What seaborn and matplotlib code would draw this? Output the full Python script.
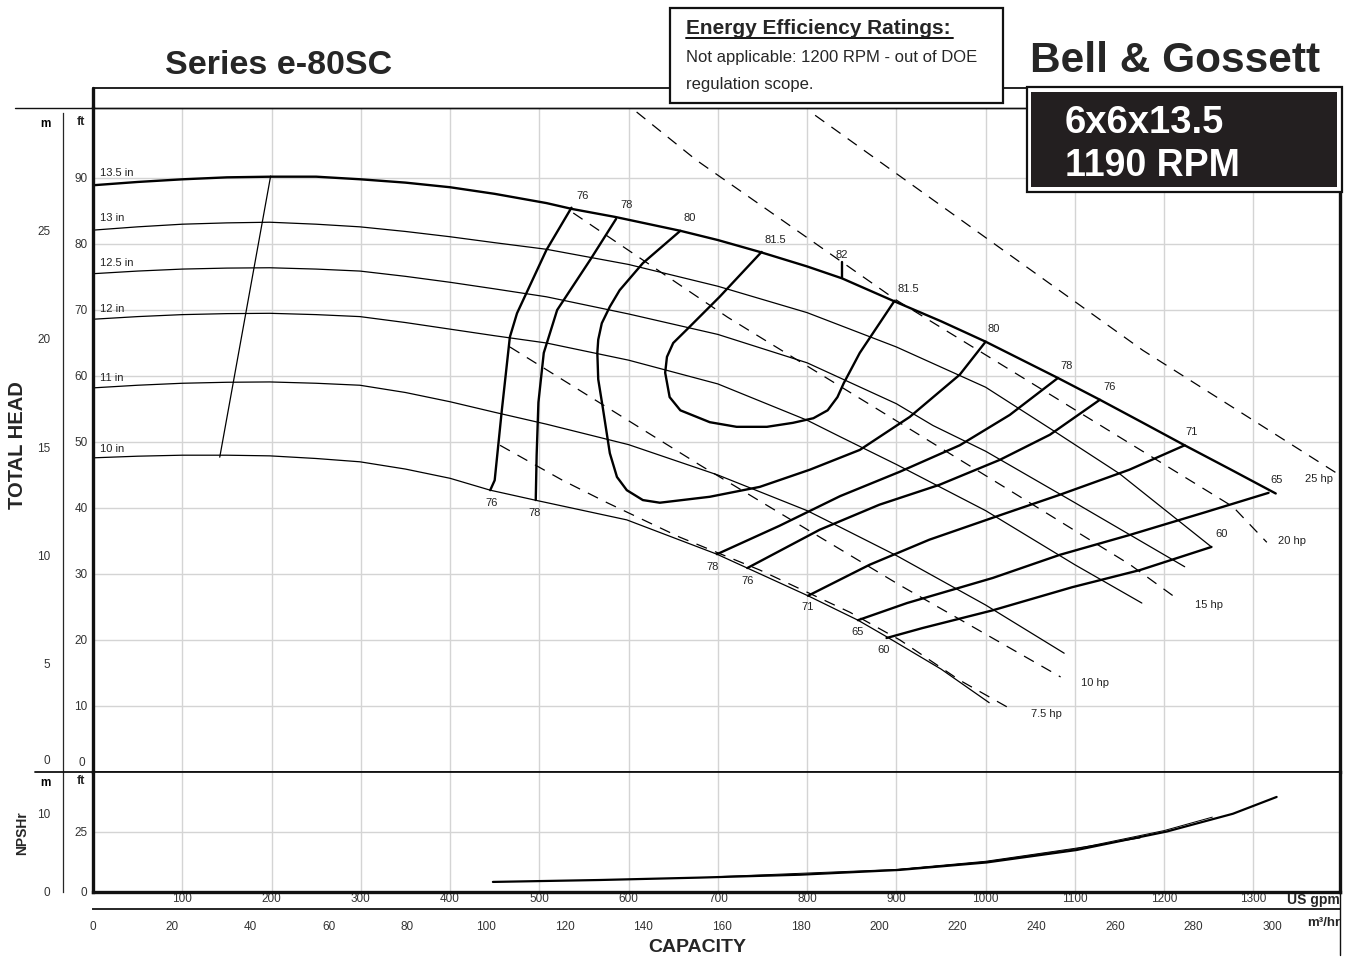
import numpy as np
import pandas as pd
import matplotlib
matplotlib.use('Agg')
import matplotlib.pyplot as plt
import seaborn as sns
from matplotlib.lines import Line2D
from matplotlib.patches import Rectangle

sns.set_style('white')
plt.rcParams['font.family'] = ['Liberation Sans', 'DejaVu Sans']

W_PX, H_PX = 1355, 958
FT_PER_M = 3.281
GPM_PER_M3H = 4.403

# impeller curves (US gpm, ft)
d135_gpm = [0, 50, 100, 150, 200, 250, 300, 350, 400, 450, 508, 537, 585, 658, 700, 747, 800, 839,
            898, 950, 1000, 1081, 1128, 1175, 1223, 1275, 1325]
d135_ft = [88.9, 89.4, 89.8, 90.1, 90.2, 90.2, 89.8, 89.3, 88.6, 87.6, 86.2, 85.3, 84.1, 82.0, 80.6,
           78.8, 76.6, 74.8, 71.3, 68.3, 65.2, 59.7, 56.4, 53.0, 49.5, 45.8, 42.2]
d130_gpm = [0, 50, 100, 150, 198, 250, 299, 350, 400, 450, 508, 600, 700, 800, 900, 1000, 1075, 1150, 1253]
d130_ft = [82.1, 82.6, 83.0, 83.2, 83.3, 83.0, 82.6, 81.9, 81.1, 80.2, 79.2, 76.9, 73.6, 69.6, 64.4,
           58.3, 51.8, 45.2, 34.1]
d125_gpm = [0, 50, 100, 150, 198, 250, 299, 350, 400, 450, 508, 600, 700, 800, 900, 941, 1000, 1100, 1223]
d125_ft = [75.5, 75.9, 76.2, 76.35, 76.4, 76.2, 75.9, 75.1, 74.2, 73.2, 72.0, 69.4, 66.3, 62.0, 55.8,
           52.5, 48.6, 40.8, 31.1]
d120_gpm = [0, 50, 100, 150, 198, 250, 299, 350, 400, 450, 508, 600, 700, 800, 837, 900, 1000, 1100, 1175]
d120_ft = [68.6, 69.0, 69.3, 69.45, 69.5, 69.3, 69.0, 68.1, 67.1, 66.1, 65.0, 62.4, 58.8, 53.3, 50.8,
           46.6, 39.6, 31.4, 25.6]
d110_gpm = [0, 50, 100, 150, 198, 250, 299, 350, 400, 450, 508, 600, 700, 800, 837, 900, 1000, 1088]
d110_ft = [58.2, 58.6, 58.9, 59.05, 59.1, 58.9, 58.6, 57.5, 56.1, 54.5, 52.7, 49.6, 45.0, 39.6, 37.1,
           32.8, 25.3, 18.0]
d100_gpm = [0, 50, 100, 150, 198, 250, 299, 350, 400, 445, 495, 598, 699, 733, 801, 857, 889, 950, 1004]
d100_ft = [47.6, 47.85, 48.0, 48.0, 47.9, 47.5, 47.0, 45.9, 44.5, 42.7, 41.2, 38.2, 33.0, 30.9, 26.7,
           23.0, 20.5, 15.6, 10.5]
dia_labels = ['13.5 in', '13 in', '12.5 in', '12 in', '11 in', '10 in']
dia_label_ft = [90.8, 83.9, 77.1, 70.2, 59.7, 48.9]

minflow_gpm = [199, 142]
minflow_ft = [90.3, 47.7]

# efficiency contours (%)
e76l_gpm = [536, 508, 475, 467, 458, 450, 445]
e76l_ft = [85.5, 79.1, 69.5, 65.9, 54.8, 44.2, 42.7]
e78l_gpm = [586, 557, 520, 505, 499, 497, 496]
e78l_ft = [83.8, 77.6, 70.0, 63.5, 56.0, 48.0, 41.2]
e80_gpm = [658, 616, 590, 579, 570, 566, 565, 566, 571, 579, 587, 598, 616, 635, 691, 747, 803, 859,
           915, 971, 1000]
e80_ft = [82.0, 77.1, 73.0, 70.5, 68.0, 65.5, 63.5, 59.5, 55.3, 48.3, 44.7, 42.7, 41.2, 40.8, 41.7,
          43.2, 45.8, 48.8, 53.8, 60.2, 65.2]
e815_gpm = [749, 702, 665, 650, 643, 641, 646, 658, 691, 721, 755, 784, 807, 823, 834, 841, 859, 898]
e815_ft = [78.8, 72.0, 67.0, 65.0, 62.9, 60.5, 56.8, 54.8, 53.0, 52.3, 52.3, 52.9, 53.6, 54.8, 56.8,
           58.9, 63.5, 71.4]
e78r_gpm = [1081, 1027, 971, 904, 837, 769, 699]
e78r_ft = [59.7, 54.1, 49.5, 45.5, 41.8, 37.3, 33.0]
e76r_gpm = [1128, 1072, 1016, 948, 881, 814, 733]
e76r_ft = [56.4, 51.1, 47.3, 43.5, 40.5, 36.7, 30.9]
e71_gpm = [1223, 1161, 1083, 1016, 937, 870, 801]
e71_ft = [49.5, 45.8, 42.0, 38.9, 35.2, 31.4, 26.7]
e65_gpm = [1317, 1247, 1161, 1083, 1008, 912, 857]
e65_ft = [42.3, 39.4, 35.9, 32.9, 29.4, 25.6, 23.0]
e60_gpm = [1253, 1173, 1097, 1008, 929, 889]
e60_ft = [34.1, 30.6, 28.0, 24.5, 21.8, 20.3]
peak_gpm = [839, 839]
peak_ft = [74.8, 77.2]

eff_text = ['76', '78', '80', '81.5', '82', '81.5', '80', '78', '76', '71', '65', '60',
            '76', '78', '78', '76', '71', '65', '60']
eff_text_gpm = [548, 598, 669, 764, 839, 913, 1009, 1091, 1139, 1231, 1326, 1264,
                446, 495, 694, 733, 800, 856, 886]
eff_text_ft = [87.3, 85.9, 83.9, 80.6, 78.4, 73.2, 67.1, 61.5, 58.3, 51.5, 44.2, 36.1,
               40.8, 39.2, 31.1, 28.9, 25.0, 21.2, 18.5]

# power lines (hp)
hp25_gpm = [809, 1176, 1393]
hp25_ft = [99.5, 63.9, 45.3]
hp20_gpm = [609, 676, 900, 1277, 1315]
hp20_ft = [100.0, 92.7, 71.5, 40.2, 34.8]
hp15_gpm = [538, 711, 1017, 1162, 1213]
hp15_ft = [84.7, 68.9, 43.5, 31.4, 26.4]
hp10_gpm = [467, 680, 904, 1084]
hp10_ft = [64.4, 46.5, 28.3, 14.4]
hp75_gpm = [456, 526, 576, 657, 747, 848, 904, 971, 1030]
hp75_ft = [49.5, 44.2, 40.8, 35.6, 30.6, 24.2, 20.0, 13.9, 9.4]
hp_text = ['25 hp', '20 hp', '15 hp', '10 hp', '7.5 hp']
hp_text_gpm = [1374, 1343, 1250, 1122, 1068]
hp_text_ft = [44.4, 35.0, 25.3, 13.5, 8.8]

# NPSHr (US gpm, ft)
npsh_gpm = [448, 568, 680, 792, 904, 1001, 1102, 1203, 1277, 1326]
npsh_ft = [4.2, 5.0, 6.0, 7.2, 9.2, 12.3, 17.5, 25.2, 32.6, 39.6]
npsh2_gpm = [700, 900, 1000, 1100, 1173]
npsh2_ft = [6.4, 9.4, 12.8, 18.2, 22.5]
npsh3_gpm = [900, 1000, 1100, 1200, 1254]
npsh3_ft = [9.3, 12.6, 17.9, 25.6, 31.2]


def long_df(pairs):
    frames = [pd.DataFrame({'gpm': q, 'ft': h, 'curve': i}) for i, (q, h) in enumerate(pairs)]
    return pd.concat(frames, ignore_index=True)


def fxy(x, y):
    return x / W_PX, 1 - y / H_PX


thin_df = long_df([(d130_gpm, d130_ft), (d125_gpm, d125_ft), (d120_gpm, d120_ft),
                   (d110_gpm, d110_ft), (d100_gpm, d100_ft), (minflow_gpm, minflow_ft)])
thick_df = long_df([(d135_gpm, d135_ft), (e76l_gpm, e76l_ft), (e78l_gpm, e78l_ft),
                    (e80_gpm, e80_ft), (e815_gpm, e815_ft), (e78r_gpm, e78r_ft),
                    (e76r_gpm, e76r_ft), (e71_gpm, e71_ft), (e65_gpm, e65_ft),
                    (e60_gpm, e60_ft), (peak_gpm, peak_ft)])
hp_df = long_df([(hp25_gpm, hp25_ft), (hp20_gpm, hp20_ft), (hp15_gpm, hp15_ft),
                 (hp10_gpm, hp10_ft), (hp75_gpm, hp75_ft)])
npsh_df = long_df([(npsh_gpm, npsh_ft)])
npsh_thin_df = long_df([(npsh2_gpm, npsh2_ft), (npsh3_gpm, npsh3_ft)])

fig = plt.figure(figsize=(W_PX / 100, H_PX / 100), dpi=100)
X0, X1 = 93, 1340
XMAX = 1397
ax = fig.add_axes([X0 / W_PX, 1 - 772 / H_PX, (X1 - X0) / W_PX, (772 - 108) / H_PX])
axn = fig.add_axes([X0 / W_PX, 1 - 892 / H_PX, (X1 - X0) / W_PX, 120 / H_PX])

common = dict(x='gpm', y='ft', units='curve', estimator=None, sort=False, color='black', legend=False)
sns.lineplot(data=thin_df, ax=ax, lw=0.9, **common)
sns.lineplot(data=thick_df, ax=ax, lw=1.7, **common)
sns.lineplot(data=hp_df, ax=ax, lw=0.9, linestyle=(0, (9, 7)), **common)
sns.lineplot(data=npsh_thin_df, ax=axn, lw=0.7, **common)
sns.lineplot(data=npsh_df, ax=axn, lw=1.6, **common)

small = dict(fontsize=8, color='#222222')
for lab, h in zip(dia_labels, dia_label_ft):
    ax.text(8, h, lab, ha='left', va='center', **small)
for lab, q, h in zip(eff_text, eff_text_gpm, eff_text_ft):
    ax.text(q, h, lab, ha='center', va='center', **small)
for lab, q, h in zip(hp_text, hp_text_gpm, hp_text_ft):
    ax.text(q, h, lab, ha='center', va='center', **small)

# main head axes
ax.set_xlim(0, XMAX)
ax.set_ylim(0, (772 - 108) / 6.6)
ax.set_xticks(np.arange(100, 1400, 100))
ax.set_xticklabels([])
ft_ticks = list(range(10, 100, 10))
ax.set_yticks(ft_ticks)
ax.set_yticklabels([str(v) for v in ft_ticks], fontsize=8.5, color='#333333')
ax.tick_params(axis='both', length=0, pad=4)
ax.grid(True, color='#d4d4d4', lw=1.0)
ax.set_axisbelow(True)
ax.set_xlabel('')
ax.set_ylabel('')
for s, lw in [('left', 2.4), ('right', 2.4), ('bottom', 1.3), ('top', 1.0)]:
    ax.spines[s].set_linewidth(lw)
    ax.spines[s].set_color('#111111')
yt = ax.get_yaxis_transform()
ax.text(-0.006, (772 - 122) / 6.6, 'ft', transform=yt, ha='right', va='center', fontsize=9, fontweight='bold')
ax.text(-0.006, 0.4, '0', transform=yt, ha='right', va='bottom', fontsize=8.5, color='#333333')

# head, metres
axm = fig.add_axes([63 / W_PX, 1 - 772 / H_PX, 1e-4, (772 - 113) / H_PX])
axm.set_ylim(0, (772 - 113) / 6.6 / FT_PER_M)
axm.set_xticks([])
axm.set_yticks([5, 10, 15, 20, 25, (772 - 122) / 6.6 / FT_PER_M])
labs = axm.set_yticklabels(['5', '10', '15', '20', '25', 'm'], fontsize=8.5, color='#333333')
labs[-1].set_fontweight('bold')
labs[-1].set_color('black')
axm.tick_params(axis='y', direction='out', length=6, pad=3, width=0.8)
for s in ['top', 'right', 'bottom']:
    axm.spines[s].set_visible(False)
axm.spines['left'].set_linewidth(0.9)
axm.patch.set_visible(False)
axm.annotate('0', xy=(0, 0.25), xycoords=('axes fraction', 'data'), xytext=(-9, 0),
             textcoords='offset points', ha='right', va='bottom', fontsize=8.5, color='#333333')

# NPSHr axes
axn.set_xlim(0, XMAX)
axn.set_ylim(0, 50)
gpm_ticks = list(range(100, 1400, 100))
axn.set_xticks(gpm_ticks)
axn.set_xticklabels([str(v) for v in gpm_ticks], fontsize=8.5, color='#333333')
axn.set_yticks([0, 25])
axn.set_yticklabels(['0', '25'], fontsize=8.5, color='#333333')
axn.tick_params(axis='x', length=0, pad=1)
axn.tick_params(axis='y', length=0, pad=4)
axn.grid(True, color='#d4d4d4', lw=1.0)
axn.set_axisbelow(True)
axn.set_xlabel('')
axn.set_ylabel('')
for s, lw in [('left', 2.4), ('right', 2.4), ('bottom', 2.4), ('top', 1.3)]:
    axn.spines[s].set_linewidth(lw)
    axn.spines[s].set_color('#111111')
axn.text(-0.006, (892 - 781) / 2.4, 'ft', transform=axn.get_yaxis_transform(), ha='right', va='center', fontsize=9, fontweight='bold')

axnm = fig.add_axes([63 / W_PX, 1 - 892 / H_PX, 1e-4, 120 / H_PX])
axnm.set_ylim(0, 50 / FT_PER_M)
axnm.set_xticks([])
axnm.set_yticks([0, 10, (892 - 781) / 2.4 / FT_PER_M])
labs = axnm.set_yticklabels(['0', '10', 'm'], fontsize=8.5, color='#333333')
labs[-1].set_fontweight('bold')
labs[-1].set_color('black')
axnm.tick_params(axis='y', direction='out', length=6, pad=3, width=0.8)
axnm.get_yticklines()[4].set_visible(False)
for s in ['top', 'right', 'bottom']:
    axnm.spines[s].set_visible(False)
axnm.spines['left'].set_linewidth(0.9)
axnm.patch.set_visible(False)

# m3/hr axis
axc = fig.add_axes([X0 / W_PX, 1 - 909 / H_PX, (X1 - X0) / W_PX, 1e-4])
axc.set_xlim(0, XMAX / GPM_PER_M3H)
m3_ticks = list(range(0, 301, 20))
axc.set_xticks(m3_ticks)
axc.set_xticklabels([str(v) for v in m3_ticks], fontsize=8.5, color='#333333')
axc.tick_params(axis='x', direction='out', length=7, width=1.0, pad=2)
axc.set_yticks([])
for s in ['top', 'right', 'left']:
    axc.spines[s].set_visible(False)
axc.spines['bottom'].set_linewidth(1.4)
axc.patch.set_visible(False)

fig.text(*fxy(1340, 900), 'US gpm', ha='right', va='center', fontsize=10, fontweight='bold')
fig.text(*fxy(1340, 923), 'm³/hr', ha='right', va='center', fontsize=9.5, fontweight='bold')

# frame lines
def fline(xs, ys, lw, z=1):
    fx = [x / W_PX for x in xs]
    fy = [1 - y / H_PX for y in ys]
    fig.add_artist(Line2D(fx, fy, color='#111111', lw=lw, zorder=z))

fline([15, 1340], [108, 108], 1.0)
fline([93, 1340], [88, 88], 1.3)
fline([35, 93], [772, 772], 1.3)
fline([93, 93], [88, 108], 2.4)
fline([1340, 1340], [88, 108], 2.4)
fline([1340, 1340], [892, 955], 1.0)

# axis titles
fig.text(*fxy(18, 445), 'TOTAL HEAD', rotation=90, ha='center', va='center', fontsize=14.5, fontweight='bold')
fig.text(*fxy(22, 833), 'NPSHr', rotation=90, ha='center', va='center', fontsize=10, fontweight='bold')
fig.text(*fxy(697, 948), 'CAPACITY', ha='center', va='center', fontsize=14, fontweight='bold')
fig.text(*fxy(165, 74), 'Series e-80SC', ha='left', va='baseline', fontsize=24.5, fontweight='bold')
fig.text(*fxy(1030, 72), 'Bell & Gossett', ha='left', va='baseline', fontsize=30.5, fontweight='bold')

# energy rating box
fig.add_artist(Rectangle(fxy(670, 103), 333 / W_PX, 95 / H_PX, transform=fig.transFigure,
                         facecolor='white', edgecolor='#111111', lw=1.6, zorder=5))
fig.text(*fxy(686, 34), 'Energy Efficiency Ratings:', ha='left', va='baseline', fontsize=15,
         fontweight='bold', zorder=6)
fline([686, 953], [38, 38], 1.4, z=6)
fig.text(*fxy(686, 62), 'Not applicable: 1200 RPM - out of DOE', ha='left', va='baseline',
         fontsize=12, zorder=6)
fig.text(*fxy(686, 89), 'regulation scope.', ha='left', va='baseline', fontsize=12, zorder=6)

# model box
fig.add_artist(Rectangle(fxy(1027, 192), 315 / W_PX, 105 / H_PX, transform=fig.transFigure,
                         facecolor='white', edgecolor='#111111', lw=1.6, zorder=5))
fig.add_artist(Rectangle(fxy(1031, 187), 306 / W_PX, 95 / H_PX, transform=fig.transFigure,
                         facecolor='#231f20', edgecolor='none', zorder=6))
fig.text(*fxy(1065, 133), '6x6x13.5', ha='left', va='baseline', fontsize=27.5, fontweight='bold',
         color='white', zorder=7)
fig.text(*fxy(1065, 176), '1190 RPM', ha='left', va='baseline', fontsize=27, fontweight='bold',
         color='white', zorder=7)

fig.savefig('out.png', dpi=100)
